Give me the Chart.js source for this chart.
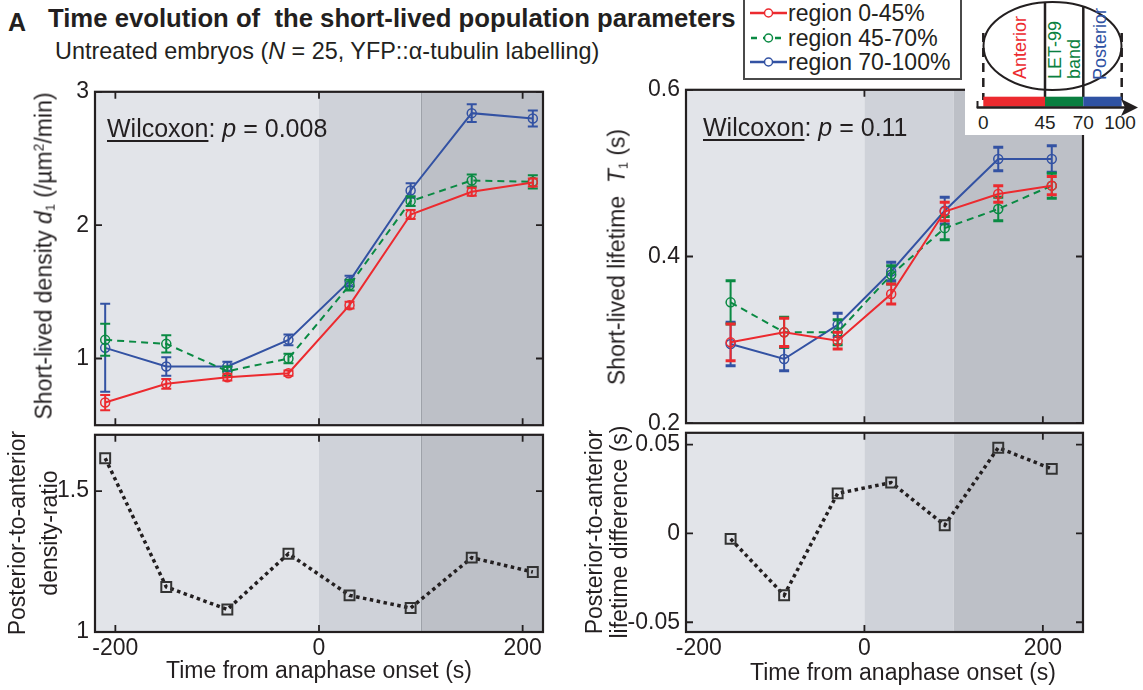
<!DOCTYPE html>
<html>
<head>
<meta charset="utf-8">
<script src="https://cdn.jsdelivr.net/npm/chart.js@4.4.1/dist/chart.umd.min.js"></script>
<style>
  body { margin: 0; width: 1143px; height: 690px; position: relative; overflow: hidden; background: #fff;
         font-family: "Liberation Sans", Arial, Helvetica, sans-serif; color: #231f20; }
  canvas { position: absolute; }
  .txt { position: absolute; white-space: nowrap; line-height: 1; }
  .rot { position: absolute; white-space: nowrap; line-height: 1; font-size: 23px;
         transform: translate(-50%, -50%) rotate(-90deg); }
  .hx { position: absolute; white-space: nowrap; line-height: 1; font-size: 23px; transform: translate(-50%, -50%); }
  sub { font-size: 0.55em; vertical-align: -0.25em; }
  sup { font-size: 0.6em; vertical-align: 0.55em; }
  .note { font-size: 25px; }
  .note u { text-decoration-thickness: 2px; text-underline-offset: 3px; }
  #legend { position: absolute; left: 743px; top: -2px; width: 215px; height: 78px; border: 2px solid #4a4a4a; background: #fff; }
  .lrow { position: absolute; left: 0; height: 24px; font-size: 23px; line-height: 24px; white-space: nowrap; }
  .lrow svg { position: absolute; left: 3px; top: 0; }
  .lrow span { position: absolute; left: 43px; top: 0; }
</style>
</head>
<body>

<div class="txt" style="left:8px; top:10px; font-size:25px; font-weight:bold;">A</div>
<div class="txt" style="left:48px; top:6px; font-size:25.7px; font-weight:bold;">Time evolution of&nbsp; the short-lived population parameters</div>
<div class="txt" style="left:55px; top:40px; font-size:23.4px;">Untreated embryos (<i>N</i> = 25, YFP::α-tubulin labelling)</div>

<canvas id="densityChart" width="560" height="373" style="left:0; top:72px;"></canvas>
<canvas id="ratioChart" width="560" height="275" style="left:0; top:415px;"></canvas>
<canvas id="lifetimeChart" width="553" height="373" style="left:590px; top:70px;"></canvas>
<canvas id="diffChart" width="553" height="277" style="left:590px; top:413px;"></canvas>

<div class="txt note" id="noteDensity" style="left:107px; top:116px;"></div>
<div class="txt note" id="noteLifetime" style="left:703px; top:115px;"></div>

<div class="rot" style="left:45px; top:256px;">Short-lived density <i>d</i><sub>1</sub> (/µm<sup>2</sup>/min)</div>
<div class="rot" style="left:17px; top:533px;">Posterior-to-anterior</div>
<div class="rot" style="left:49px; top:533px;">density-ratio</div>
<div class="rot" style="left:618px; top:257px;">Short-lived lifetime&nbsp; <i>T</i><sub>1</sub> (s)</div>
<div class="rot" style="left:594px; top:532px;">Posterior-to-anterior</div>
<div class="rot" style="left:619px; top:532px;">lifetime difference (s)</div>
<div class="hx" style="left:319px; top:670px;">Time from anaphase onset (s)</div>
<div class="hx" style="left:903px; top:672px;">Time from anaphase onset (s)</div>

<div id="legend"></div>

<svg style="position:absolute; left:965px; top:0;" width="178" height="135" font-family="Liberation Sans, Arial, sans-serif">
  <rect x="0" y="0" width="178" height="135" fill="#fff"/>
  <ellipse cx="87.5" cy="46" rx="69" ry="44" fill="none" stroke="#231f20" stroke-width="2"/>
  <line x1="80" y1="2" x2="80" y2="97" stroke="#231f20" stroke-width="2.5"/>
  <line x1="118.3" y1="6" x2="118.3" y2="97" stroke="#231f20" stroke-width="2.5"/>
  <line x1="18.3" y1="33" x2="18.3" y2="100" stroke="#231f20" stroke-width="2.5" stroke-dasharray="9 6"/>
  <line x1="156.7" y1="33" x2="156.7" y2="100" stroke="#231f20" stroke-width="2.5" stroke-dasharray="9 6"/>
  <rect x="18.3" y="96.7" width="61.7" height="10" fill="#ec2a2f"/>
  <rect x="80" y="96.7" width="38.3" height="10" fill="#0a7f40"/>
  <rect x="118.3" y="96.7" width="38.4" height="10" fill="#2f52a3"/>
  <line x1="11.7" y1="107.5" x2="160" y2="107.5" stroke="#231f20" stroke-width="2.5"/>
  <line x1="12.5" y1="101" x2="12.5" y2="108" stroke="#231f20" stroke-width="2"/>
  <polygon points="156,99 173,107.5 156,116 160,107.5" fill="#231f20"/>
  <g font-size="19" text-anchor="middle" fill="#231f20">
    <text x="18.3" y="129">0</text>
    <text x="80" y="129">45</text>
    <text x="118.3" y="129">70</text>
    <text x="155" y="129">100</text>
  </g>
  <g font-size="18" dominant-baseline="central">
    <text transform="translate(55,79) rotate(-90)" fill="#ec2a2f">Anterior</text>
    <text transform="translate(90,79) rotate(-90)" fill="#0a7f40">LET-99</text>
    <text transform="translate(108.5,79) rotate(-90)" fill="#0a7f40">band</text>
    <text transform="translate(134.5,80) rotate(-90)" fill="#2f52a3">Posterior</text>
  </g>
</svg>

<script>
// time points (s from anaphase onset)
const timesDensity = [-210, -150, -90, -30, 30, 90, 150, 210];
const timesLifetime = [-150, -90, -30, 30, 90, 150, 210];
const seriesNames = ['region 0-45%', 'region 45-70%', 'region 70-100%'];
const phaseBounds = [0, 100];

// short-lived density d1 (/um2/min), mean and error
const densityAnt = [0.67, 0.81, 0.86, 0.89, 1.40, 2.08, 2.25, 2.32];
const densityAntErr = [0.057, 0.036, 0.025, 0.02, 0.025, 0.033, 0.03, 0.03];
const densityBand = [1.14, 1.11, 0.905, 1.00, 1.55, 2.18, 2.335, 2.325];
const densityBandErr = [0.12, 0.065, 0.035, 0.035, 0.04, 0.036, 0.045, 0.05];
const densityPost = [1.08, 0.94, 0.94, 1.14, 1.58, 2.26, 2.84, 2.80];
const densityPostErr = [0.33, 0.07, 0.035, 0.04, 0.04, 0.055, 0.067, 0.06];
const densityRatio = [1.617, 1.16, 1.08, 1.278, 1.13, 1.085, 1.264, 1.213];

// short-lived lifetime T1 (s)
const lifetimeAnt = [0.297, 0.309, 0.299, 0.355, 0.454, 0.475, 0.485];
const lifetimeAntErr = [0.022, 0.017, 0.01, 0.012, 0.011, 0.01, 0.011];
const lifetimeBand = [0.345, 0.309, 0.309, 0.378, 0.434, 0.457, 0.485];
const lifetimeBandErr = [0.026, 0.018, 0.015, 0.011, 0.014, 0.014, 0.015];
const lifetimePost = [0.295, 0.277, 0.318, 0.382, 0.455, 0.517, 0.517];
const lifetimePostErr = [0.026, 0.014, 0.014, 0.011, 0.016, 0.014, 0.016];
const lifetimeDiff = [-0.0031, -0.0348, 0.0225, 0.0286, 0.0046, 0.0482, 0.0363];

const xTicks = [-200, 0, 200];
const densityTicks = [1, 2, 3];
const ratioTicks = [1, 1.5];
const lifetimeTicks = [0.2, 0.4, 0.6];
const diffTicks = [-0.05, 0, 0.05];

const pDensity = '0.008';
const pLifetime = '0.11';

const colors = ['#ec2a2f', '#0a8a43', '#3352a3'];
const dashes = [[], [7, 5], []];

Chart.defaults.font.family = '"Liberation Sans", Arial, Helvetica, sans-serif';
Chart.defaults.font.size = 23;
Chart.defaults.color = '#231f20';

document.getElementById('noteDensity').innerHTML = '<u>Wilcoxon</u>: <i>p</i> = ' + pDensity;
document.getElementById('noteLifetime').innerHTML = '<u>Wilcoxon</u>: <i>p</i> = ' + pLifetime;

// legend
const legend = document.getElementById('legend');
seriesNames.forEach((name, i) => {
  const row = document.createElement('div');
  row.className = 'lrow';
  row.style.top = (1 + i * 24.5) + 'px';
  const dash = dashes[i].length ? 'stroke-dasharray="6 6" stroke-dashoffset="-1"' : '';
  row.innerHTML = '<svg width="40" height="24"><line x1="2" y1="12" x2="39" y2="12" stroke="' + colors[i] +
    '" stroke-width="2.5" ' + dash + '/><circle cx="20.5" cy="12" r="4" fill="#fff" stroke="' + colors[i] +
    '" stroke-width="1.5"/></svg><span>' + name + '</span>';
  legend.appendChild(row);
});

const phaseShading = {
  id: 'phaseShading',
  beforeDatasetsDraw(chart, args, opts) {
    const { ctx, chartArea: a, scales: { x } } = chart;
    const p0 = x.getPixelForValue(phaseBounds[0]);
    const p1 = x.getPixelForValue(phaseBounds[1]);
    ctx.save();
    ctx.fillStyle = '#e2e4e9';
    ctx.fillRect(a.left, a.top, p0 - a.left, a.height);
    ctx.fillStyle = '#cfd2d9';
    ctx.fillRect(p0, a.top, p1 - p0, a.height);
    ctx.fillStyle = '#bdc0c7';
    ctx.fillRect(p1, a.top, a.right - p1, a.height);
    if (opts.edge) {
      ctx.strokeStyle = '#9ea2a9';
      ctx.lineWidth = 1;
      ctx.beginPath();
      ctx.moveTo(Math.round(p1) + 0.5, a.top);
      ctx.lineTo(Math.round(p1) + 0.5, a.bottom);
      ctx.stroke();
    }
    ctx.restore();
  }
};

const errorBars = {
  id: 'errorBars',
  afterDatasetDraw(chart, args, opts) {
    const ds = chart.data.datasets[args.index];
    if (!ds.errors) return;
    const { ctx, chartArea: a, scales: { x, y } } = chart;
    ctx.save();
    ctx.beginPath();
    ctx.rect(a.left, a.top, a.width, a.height);
    ctx.clip();
    ctx.strokeStyle = ds.borderColor;
    ctx.setLineDash([]);
    ds.data.forEach((pt, i) => {
      const px = x.getPixelForValue(pt.x);
      const lo = y.getPixelForValue(pt.y - ds.errors[i]);
      const hi = y.getPixelForValue(pt.y + ds.errors[i]);
      ctx.lineWidth = 2;
      ctx.beginPath();
      ctx.moveTo(px, lo);
      ctx.lineTo(px, hi);
      ctx.stroke();
      ctx.lineWidth = opts.capWidth;
      ctx.beginPath();
      ctx.moveTo(px - 5, lo); ctx.lineTo(px + 5, lo);
      ctx.moveTo(px - 5, hi); ctx.lineTo(px + 5, hi);
      ctx.stroke();
    });
    ctx.restore();
  }
};

// box around the axes with inward ticks on every side
const frameTicks = {
  id: 'frameTicks',
  afterDraw(chart, args, opts) {
    const { ctx, chartArea: a, scales: { x, y } } = chart;
    const len = 7;
    ctx.save();
    ctx.strokeStyle = '#231f20';
    ctx.lineWidth = 1.8;
    ctx.beginPath();
    opts.xTicks.forEach(v => {
      const p = x.getPixelForValue(v);
      ctx.moveTo(p, a.top); ctx.lineTo(p, a.top + len);
      ctx.moveTo(p, a.bottom); ctx.lineTo(p, a.bottom - len);
    });
    opts.yTicks.forEach(v => {
      const p = y.getPixelForValue(v);
      ctx.moveTo(a.left, p); ctx.lineTo(a.left + len, p);
      ctx.moveTo(a.right, p); ctx.lineTo(a.right - len, p);
    });
    ctx.stroke();
    ctx.lineWidth = 2.2;
    ctx.strokeRect(a.left, a.top, a.width, a.height);
    ctx.restore();
  }
};

const fmt = v => String(+Number(v).toFixed(3));
// the right-hand panels print their first time label nudged inward, as in the original
const fmtInset = v => (v === xTicks[0] ? '    ' : '') + fmt(v);

function regionSet(i, times, values, errs) {
  return {
    label: seriesNames[i],
    data: times.map((t, k) => ({ x: t, y: values[k] })),
    errors: errs,
    borderColor: colors[i],
    borderWidth: 2,
    borderDash: dashes[i],
    pointRadius: 4.5,
    pointBorderWidth: 1.5,
    pointBorderColor: colors[i],
    pointBackgroundColor: 'rgba(0,0,0,0)',
    tension: 0
  };
}

function contrastSet(times, values) {
  return {
    data: times.map((t, k) => ({ x: t, y: values[k] })),
    borderColor: '#231f20',
    borderWidth: 3.5,
    borderDash: [3.5, 3.5],
    borderCapStyle: 'butt',
    pointStyle: 'rect',
    pointRadius: 7,
    pointBorderWidth: 2,
    pointBorderColor: '#333',
    pointBackgroundColor: 'rgba(0,0,0,0)',
    tension: 0
  };
}

function panel(id, datasets, o) {
  return new Chart(document.getElementById(id), {
    type: 'line',
    data: { datasets },
    options: {
      responsive: false,
      animation: false,
      events: [],
      layout: { padding: o.padding },
      plugins: {
        legend: { display: false },
        tooltip: { enabled: false },
        phaseShading: { edge: o.edge },
        errorBars: { capWidth: o.capWidth || 2 },
        frameTicks: { xTicks: xTicks, yTicks: o.yTicks }
      },
      scales: {
        x: {
          type: 'linear', min: o.xRange[0], max: o.xRange[1], display: o.showX,
          grid: { display: false, drawTicks: false }, border: { display: false },
          ticks: { padding: 3, maxRotation: 0, autoSkip: false, callback: o.xFmt || fmt },
          afterBuildTicks: s => { s.ticks = xTicks.map(v => ({ value: v })); },
          afterFit: s => { s.height = o.xHeight; }
        },
        y: {
          type: 'linear', min: o.yRange[0], max: o.yRange[1],
          grid: { display: false, drawTicks: false }, border: { display: false },
          ticks: { padding: 6, autoSkip: false, callback: fmt },
          afterBuildTicks: s => { s.ticks = o.yTicks.map(v => ({ value: v })); },
          afterFit: s => { s.width = o.yWidth; }
        }
      }
    },
    plugins: [phaseShading, errorBars, frameTicks]
  });
}

panel('densityChart', [
  regionSet(0, timesDensity, densityAnt, densityAntErr),
  regionSet(1, timesDensity, densityBand, densityBandErr),
  regionSet(2, timesDensity, densityPost, densityPostErr)
], { padding: { top: 15, bottom: 15, left: 0, right: 17 }, xRange: [-220, 220], yRange: [0.5, 3],
     yTicks: densityTicks, yWidth: 95, xHeight: 0, showX: false, edge: true });

panel('ratioChart', [contrastSet(timesDensity, densityRatio)],
  { padding: { top: 15, bottom: 0, left: 0, right: 17 }, xRange: [-220, 220], yRange: [1, 1.7],
    yTicks: ratioTicks, yWidth: 95, xHeight: 58, showX: true, edge: true });

panel('lifetimeChart', [
  regionSet(0, timesLifetime, lifetimeAnt, lifetimeAntErr),
  regionSet(1, timesLifetime, lifetimeBand, lifetimeBandErr),
  regionSet(2, timesLifetime, lifetimePost, lifetimePostErr)
], { padding: { top: 15, bottom: 15, left: 0, right: 60 }, xRange: [-200, 245], yRange: [0.2, 0.6],
     yTicks: lifetimeTicks, yWidth: 96, xHeight: 0, showX: false, edge: false, capWidth: 3 });

panel('diffChart', [contrastSet(timesLifetime, lifetimeDiff)],
  { padding: { top: 15, bottom: 0, left: 0, right: 60 }, xRange: [-200, 245], yRange: [-0.0555, 0.0566],
    yTicks: diffTicks, yWidth: 96, xHeight: 58, showX: true, edge: false, xFmt: fmtInset });
</script>
</body>
</html>
